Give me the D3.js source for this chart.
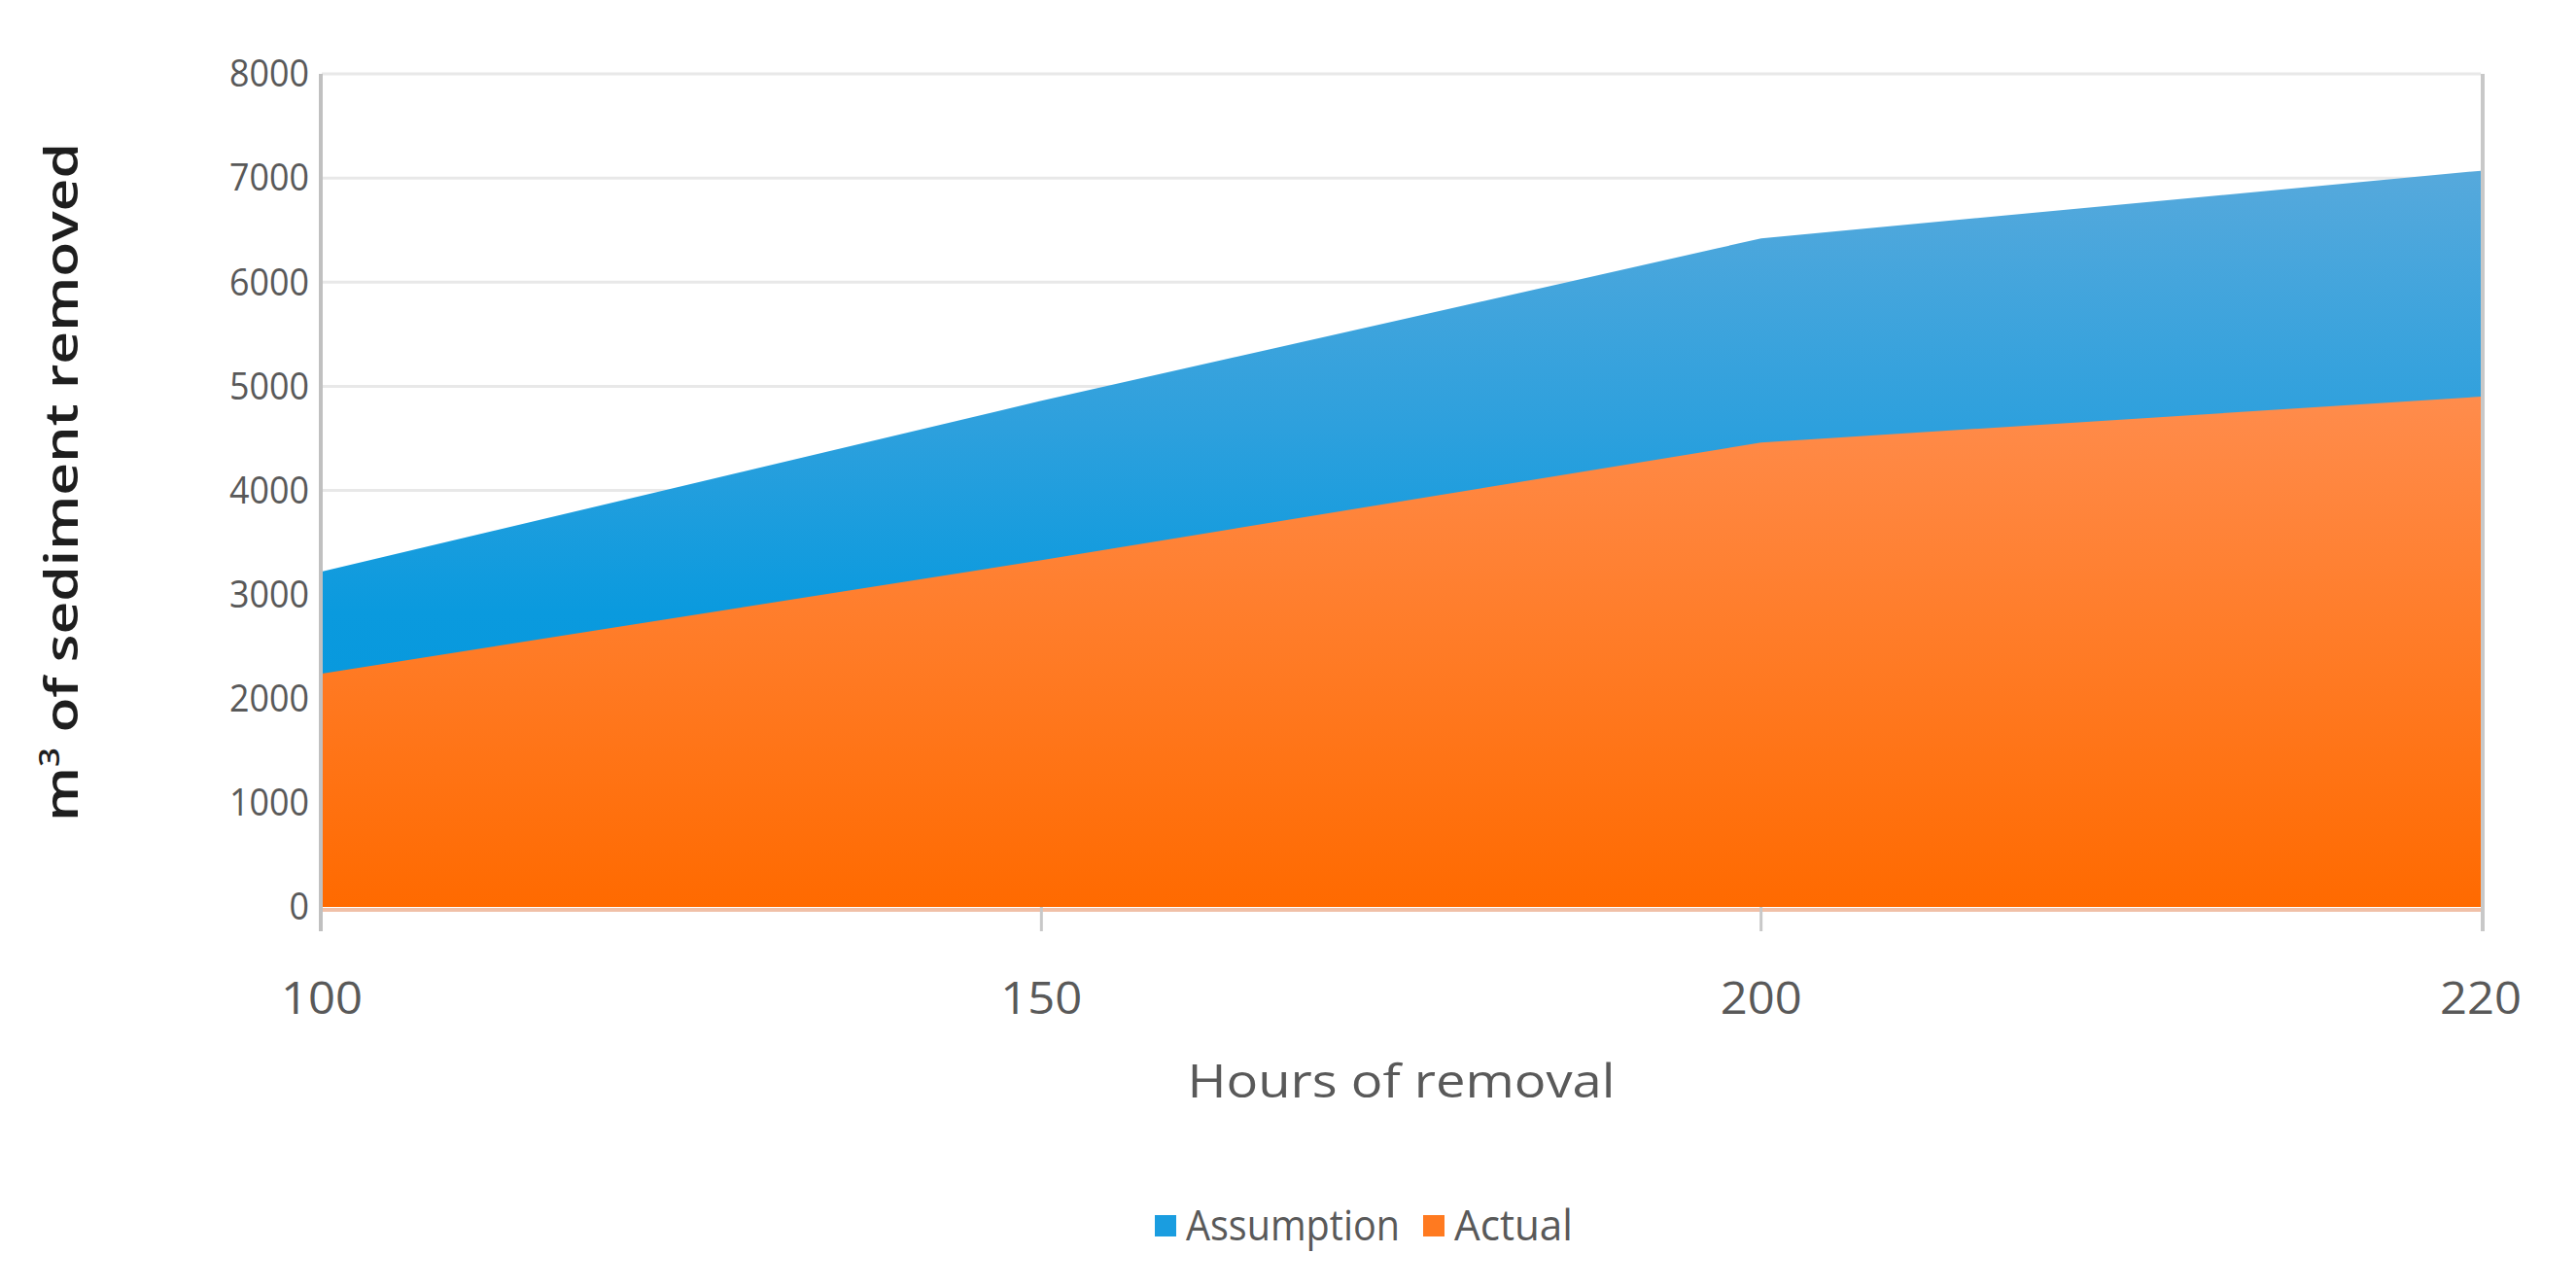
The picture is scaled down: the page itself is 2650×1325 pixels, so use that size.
<!DOCTYPE html>
<html><head><meta charset="utf-8">
<script src="https://cdn.jsdelivr.net/npm/d3@7"></script>
<style>html,body{margin:0;padding:0;background:#fff;}svg{display:block;}</style>
</head><body>
<svg id="chart" width="2650" height="1325"></svg>
<script>
const hours = ["100", "150", "200", "220"];
const assumption = [3220, 4860, 6420, 7070];
const actual = [2240, 3330, 4460, 4900];
const yTicks = [0, 1000, 2000, 3000, 4000, 5000, 6000, 7000, 8000];
const seriesNames = ["Assumption", "Actual"];

const svg = d3.select("#chart");
const L = 331, R = 2552, T = 76, B = 933;
const x = d3.scalePoint().domain(hours).range([L, R]);
const y = d3.scaleLinear().domain([0, 8000]).range([B, T]);
const font = "'Open Sans', 'Liberation Sans', sans-serif";

const defs = svg.append("defs");
const gb = defs.append("linearGradient").attr("id", "gBlue").attr("x1", 0).attr("y1", 0).attr("x2", 0).attr("y2", 1);
gb.append("stop").attr("offset", "0%").attr("stop-color", "#56a9dc");
gb.append("stop").attr("offset", "35%").attr("stop-color", "#2da0dd");
gb.append("stop").attr("offset", "60%").attr("stop-color", "#0a9ade");
gb.append("stop").attr("offset", "100%").attr("stop-color", "#0095dc");
const go = defs.append("linearGradient").attr("id", "gOrange").attr("x1", 0).attr("y1", 0).attr("x2", 0).attr("y2", 1);
go.append("stop").attr("offset", "0%").attr("stop-color", "#ff8c4c");
go.append("stop").attr("offset", "100%").attr("stop-color", "#ff6a00");

// gridlines
svg.append("g").selectAll("line").data(yTicks.filter(d => d > 0)).join("line")
  .attr("x1", L).attr("x2", R).attr("y1", d => y(d)).attr("y2", d => y(d))
  .attr("stroke", "#e8e8e8").attr("stroke-width", 3);

const area = vals => d3.area().x((d, i) => x(hours[i])).y0(y(0)).y1(d => y(d))(vals);
svg.append("path").attr("d", area(assumption)).attr("fill", "url(#gBlue)");
svg.append("path").attr("d", area(actual)).attr("fill", "url(#gOrange)");

// x axis baseline
svg.append("line").attr("x1", L).attr("x2", R).attr("y1", B + 3).attr("y2", B + 3)
  .attr("stroke", "#f0c0a8").attr("stroke-width", 4);

// y axis line and right line
svg.append("line").attr("x1", L - 1).attr("x2", L - 1).attr("y1", T).attr("y2", B + 25)
  .attr("stroke", "#c0c0c0").attr("stroke-width", 4);
svg.append("line").attr("x1", R + 2).attr("x2", R + 2).attr("y1", T).attr("y2", B + 25)
  .attr("stroke", "#c8c8c8").attr("stroke-width", 4);
// x ticks
svg.append("g").selectAll("line").data(hours.slice(1, 3)).join("line")
  .attr("x1", d => x(d)).attr("x2", d => x(d)).attr("y1", B).attr("y2", B + 25)
  .attr("stroke", "#c8c8c8").attr("stroke-width", 3);

// y tick labels
svg.append("g").selectAll("text").data(yTicks).join("text")
  .attr("x", 318).attr("y", d => y(d)).attr("dy", "0.35em").attr("text-anchor", "end")
  .attr("font-family", font).attr("font-size", 38).attr("fill", "#595959")
  .attr("textLength", d => String(d).length * 20.5).attr("lengthAdjust", "spacingAndGlyphs")
  .text(d => d);

// x tick labels
svg.append("g").selectAll("text").data(hours).join("text")
  .attr("x", d => x(d)).attr("y", 1043).attr("text-anchor", "middle")
  .attr("font-family", font).attr("font-size", 46).attr("fill", "#595959")
  .attr("textLength", 84).attr("lengthAdjust", "spacingAndGlyphs")
  .text(d => d);

// axis titles
svg.append("text").attr("x", (L + R) / 2).attr("y", 1129).attr("text-anchor", "middle")
  .attr("font-family", font).attr("font-size", 48).attr("fill", "#595959")
  .attr("textLength", 440).attr("lengthAdjust", "spacingAndGlyphs")
  .text("Hours of removal");

const yt = svg.append("text").attr("transform", "translate(80,496) rotate(-90)")
  .attr("text-anchor", "middle").attr("font-family", font).attr("font-size", 47)
  .attr("font-weight", 600)
  .attr("fill", "#1e1e1e").attr("textLength", 698).attr("lengthAdjust", "spacingAndGlyphs");
yt.append("tspan").text("m");
yt.append("tspan").attr("baseline-shift", "super").attr("font-size", 28).text("3");
yt.append("tspan").text(" of sediment removed");

// legend
const legItems = [
  {name: seriesNames[0], color: "#1a9de0", sx: 1188, tx: 1220, w: 220},
  {name: seriesNames[1], color: "#ff7a20", sx: 1464, tx: 1496, w: 122}
];
const lg = svg.append("g");
legItems.forEach(it => {
  lg.append("rect").attr("x", it.sx).attr("y", 1250).attr("width", 22).attr("height", 22).attr("fill", it.color);
  lg.append("text").attr("x", it.tx).attr("y", 1261).attr("dy", "0.35em")
    .attr("font-family", font).attr("font-size", 44).attr("fill", "#595959")
    .attr("textLength", it.w).attr("lengthAdjust", "spacingAndGlyphs").text(it.name);
});
</script>
</body></html>
